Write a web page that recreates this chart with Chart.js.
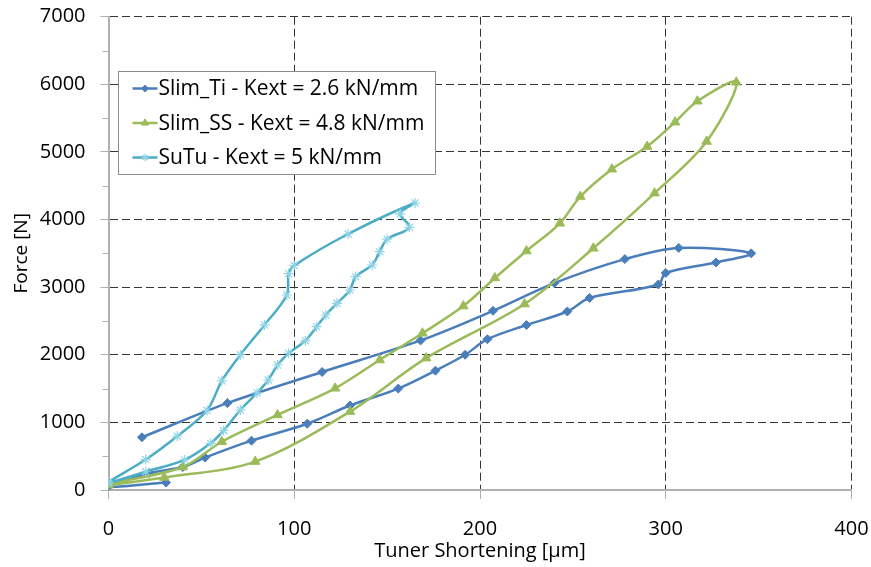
<!DOCTYPE html>
<html lang="en">
<head>
<meta charset="UTF-8">
<title>Force vs Tuner Shortening</title>
<script src="https://cdn.jsdelivr.net/npm/chart.js"></script>
<style>
  html, body { margin: 0; padding: 0; background: #fff; }
  #wrap { width: 871px; height: 567px; }
</style>
</head>
<body>
<div id="wrap"><canvas id="chart" width="871" height="567"></canvas></div>
<script>
// Series names (legend)
const seriesNames = ['Slim_Ti - Kext = 2.6 kN/mm', 'Slim_SS - Kext = 4.8 kN/mm', 'SuTu - Kext = 5 kN/mm'];

// Slim_Ti: tuner shortening [um] / force [N]
const tiX = [31, 0, 22, 40, 52, 77, 107, 130, 156, 176, 192, 204, 225, 247, 259, 296, 300, 327, 346, 307, 278, 240, 207, 168, 115, 64, 18];
const tiY = [110, 50, 250, 340, 480, 730, 980, 1250, 1500, 1765, 2000, 2230, 2440, 2640, 2840, 3040, 3210, 3365, 3500, 3580, 3415, 3060, 2650, 2212, 1745, 1285, 780];

// Slim_SS
const ssX = [0, 30, 79, 130, 171, 224, 261, 294, 322, 338, 317, 305, 290, 271, 254, 243, 225, 208, 191, 169, 146, 122, 91, 61, 40, 0];
const ssY = [70, 185, 420, 1160, 1950, 2750, 3575, 4390, 5155, 6030, 5750, 5440, 5080, 4745, 4340, 3945, 3535, 3135, 2720, 2318, 1923, 1504, 1110, 714, 340, 90];

// SuTu
const suX = [0, 20, 41, 55, 62, 71, 80, 86, 91, 97, 106, 112, 117, 123, 130, 133, 142, 146, 150, 162, 157, 165, 129, 100, 97, 96, 84, 71, 61, 53, 37, 20, 0];
const suY = [100, 270, 445, 690, 880, 1183, 1435, 1627, 1849, 2022, 2208, 2415, 2588, 2761, 2958, 3155, 3328, 3525, 3710, 3885, 4085, 4245, 3786, 3320, 3200, 2884, 2441, 2000, 1615, 1175, 795, 450, 120];

// Axis ticks
const xMin = 0, xMax = 400, xStep = 100;
const yMin = 0, yMax = 7000, yStep = 1000;

const pts = (xs, ys) => xs.map((x, i) => ({ x: x, y: ys[i] }));

const axisGrey = '#b0b0b0';
const gridDark = '#353535';
const fontFamily = '"Open Sans", "Noto Sans", sans-serif';

// minor ticks on the value axis, half way between the labelled ones
const minorTicks = {
  id: 'minorTicks',
  afterDraw(chart) {
    const sy = chart.scales.y, ctx = chart.ctx;
    ctx.save();
    ctx.strokeStyle = axisGrey;
    ctx.lineWidth = 1;
    for (let v = yMin + yStep / 2; v < yMax; v += yStep) {
      const py = Math.round(sy.getPixelForValue(v)) + 0.5;
      ctx.beginPath();
      ctx.moveTo(sy.right - 6, py);
      ctx.lineTo(sy.right, py);
      ctx.stroke();
    }
    ctx.restore();
  }
};

// framed legend inside the plot area, like the Excel one
const boxLegend = {
  id: 'boxLegend',
  afterDraw(chart) {
    const ctx = chart.ctx, area = chart.chartArea;
    const x0 = Math.round(area.left + 9) + 0.5, y0 = Math.round(area.top + 54) + 0.5;
    const w = 317, h = 103;
    ctx.save();
    ctx.fillStyle = '#fff';
    ctx.fillRect(x0, y0, w, h);
    ctx.strokeStyle = '#8c8c8c';
    ctx.lineWidth = 1;
    ctx.strokeRect(x0, y0, w, h);
    ctx.font = '21px ' + fontFamily;
    ctx.textBaseline = 'middle';
    chart.data.datasets.forEach((ds, i) => {
      const cy = y0 + 17 + i * 34.5;
      ctx.strokeStyle = ds.borderColor;
      ctx.lineWidth = 2.5;
      ctx.beginPath();
      ctx.moveTo(x0 + 14, cy);
      ctx.lineTo(x0 + 39, cy);
      ctx.stroke();
      ctx.fillStyle = ds.pointBackgroundColor;
      ctx.strokeStyle = ds.pointBorderColor;
      ctx.lineWidth = ds.pointBorderWidth;
      Chart.helpers.drawPoint(ctx, {
        pointStyle: ds.pointStyle,
        radius: ds.pointRadius * 0.75,
        borderWidth: ds.pointBorderWidth,
        rotation: 0
      }, x0 + 26.5, cy);
      ctx.fillStyle = '#000';
      ctx.fillText(ds.label, x0 + 40, cy + 1);
    });
    ctx.restore();
  }
};

new Chart(document.getElementById('chart'), {
  type: 'scatter',
  data: {
    datasets: [
      {
        label: seriesNames[0],
        data: pts(tiX, tiY),
        showLine: true,
        tension: 0.33,
        borderColor: '#4a7ebb',
        borderWidth: 2.5,
        pointStyle: 'rectRot',
        pointRadius: 4.5,
        pointBackgroundColor: '#4a7ebb',
        pointBorderColor: '#4a7ebb',
        pointBorderWidth: 1,
        order: 3
      },
      {
        label: seriesNames[1],
        data: pts(ssX, ssY),
        showLine: true,
        tension: 0.33,
        borderColor: '#9bbb59',
        borderWidth: 2.5,
        pointStyle: 'triangle',
        pointRadius: 5.5,
        pointBackgroundColor: '#9bbb59',
        pointBorderColor: '#9bbb59',
        pointBorderWidth: 1,
        order: 2
      },
      {
        label: seriesNames[2],
        data: pts(suX, suY),
        showLine: true,
        tension: 0.33,
        borderColor: '#4bacc6',
        borderWidth: 2.5,
        pointStyle: 'star',
        pointRadius: 5,
        pointBackgroundColor: '#8fd4e6',
        pointBorderColor: '#8fd4e6',
        pointBorderWidth: 1.2,
        order: 1
      }
    ]
  },
  options: {
    responsive: false,
    animation: false,
    devicePixelRatio: 1,
    layout: { padding: { left: 0, right: 19.5, top: 16.7, bottom: 0 } },
    plugins: {
      legend: { display: false },
      tooltip: { enabled: false }
    },
    scales: {
      x: {
        type: 'linear',
        min: xMin, max: xMax,
        afterFit: (s) => { s.height = 77; s.paddingLeft = 0; s.paddingRight = 0; },
        ticks: {
          stepSize: xStep,
          color: '#000',
          padding: 18,
          maxRotation: 0,
          font: { family: fontFamily, size: 20 }
        },
        grid: {
          color: gridDark,
          lineWidth: 1,
          tickLength: 9,
          tickColor: axisGrey,
          tickBorderDash: []
        },
        border: { display: true, color: axisGrey, width: 2, dash: [8, 4] },
        title: {
          display: true,
          text: 'Tuner Shortening [\u03bcm]',
          color: '#000',
          font: { family: fontFamily, size: 20 },
          padding: { top: 0, bottom: 4 }
        }
      },
      y: {
        type: 'linear',
        min: yMin, max: yMax,
        afterFit: (s) => { s.width = 108.5; s.paddingTop = 0; s.paddingBottom = 0; },
        ticks: {
          stepSize: yStep,
          color: '#000',
          padding: 15,
          callback: (v) => String(v),
          font: { family: fontFamily, size: 20 }
        },
        grid: {
          color: gridDark,
          lineWidth: 1,
          tickLength: 8,
          tickColor: axisGrey,
          tickBorderDash: []
        },
        border: { display: true, color: axisGrey, width: 2, dash: [8, 4] },
        title: {
          display: true,
          text: 'Force [N]',
          color: '#000',
          font: { family: fontFamily, size: 19 },
          padding: { top: 10, bottom: 0 }
        }
      }
    }
  },
  plugins: [minorTicks, boxLegend]
});
</script>
</body>
</html>
